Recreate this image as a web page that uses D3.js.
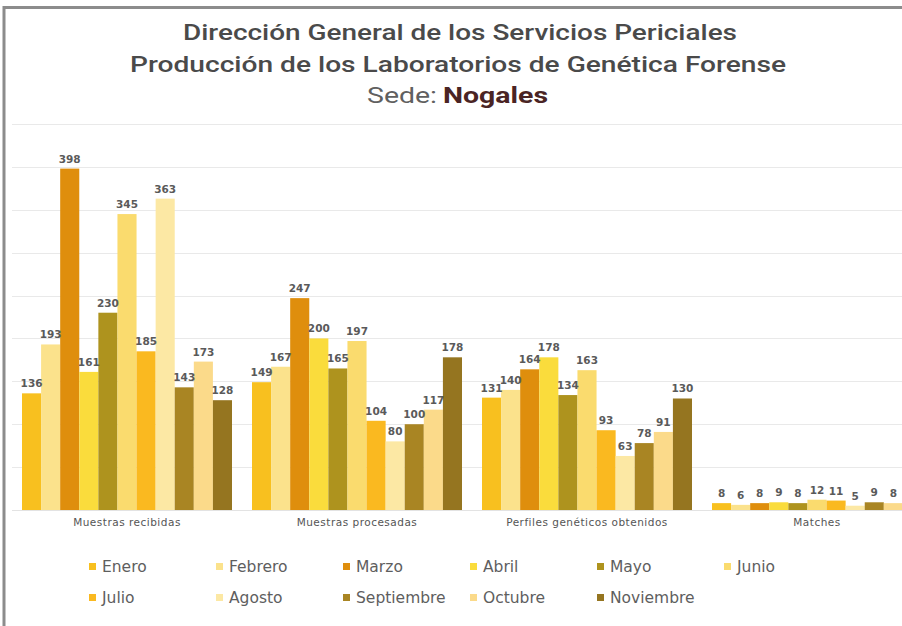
<!DOCTYPE html>
<html>
<head>
<meta charset="utf-8">
<script src="https://cdn.jsdelivr.net/npm/d3@7"></script>
<style>
  html, body { margin: 0; padding: 0; background: #ffffff; }
  svg { display: block; }
</style>
</head>
<body>
<svg id="chart" width="902" height="626"></svg>
<script>
// ---- Data ----
const categories = ["Muestras recibidas", "Muestras procesadas", "Perfiles genéticos obtenidos", "Matches"];
const months = ["Enero", "Febrero", "Marzo", "Abril", "Mayo", "Junio", "Julio", "Agosto", "Septiembre", "Octubre", "Noviembre"];
const muestrasRecibidas = [136, 193, 398, 161, 230, 345, 185, 363, 143, 173, 128];
const muestrasProcesadas = [149, 167, 247, 200, 165, 197, 104, 80, 100, 117, 178];
const perfilesObtenidos = [131, 140, 164, 178, 134, 163, 93, 63, 78, 91, 130];
const matches = [8, 6, 8, 9, 8, 12, 11, 5, 9, 8, 9];
const monthColors = ["#F8C01F", "#FBE28C", "#DF8E0D", "#FADC3C", "#AE931E", "#FADB6E",
                     "#FAB920", "#FCE8A4", "#A98523", "#FBDA8A", "#957520"];
const yTicks = [50, 100, 150, 200, 250, 300, 350, 400, 450];

const seriesByCategory = [muestrasRecibidas, muestrasProcesadas, perfilesObtenidos, matches];
const W = 902;

const svg = d3.select("#chart");

// Frame
svg.append("rect")
  .attr("x", 4).attr("y", 7.5).attr("width", 1000).attr("height", 1000)
  .attr("fill", "#ffffff").attr("stroke", "#8c8c8c").attr("stroke-width", 3);

// Title
const titleFont = "Roboto, 'Noto Sans', sans-serif";
svg.append("text").attr("x", 460).attr("y", 40).attr("text-anchor", "middle")
  .attr("font-family", titleFont).attr("font-weight", 500).attr("font-size", 22)
  .attr("fill", "#4a4a4a").attr("textLength", 554).attr("lengthAdjust", "spacingAndGlyphs")
  .text("Dirección General de los Servicios Periciales");
svg.append("text").attr("x", 458).attr("y", 72).attr("text-anchor", "middle")
  .attr("font-family", titleFont).attr("font-weight", 500).attr("font-size", 22)
  .attr("fill", "#4a4a4a").attr("textLength", 656).attr("lengthAdjust", "spacingAndGlyphs")
  .text("Producción de los Laboratorios de Genética Forense");
svg.append("text").attr("x", 367).attr("y", 103)
  .attr("font-family", titleFont).attr("font-weight", 400).attr("font-size", 22)
  .attr("fill", "#606060").attr("textLength", 70).attr("lengthAdjust", "spacingAndGlyphs")
  .text("Sede:");
svg.append("text").attr("x", 443).attr("y", 103)
  .attr("font-family", titleFont).attr("font-weight", 700).attr("font-size", 22)
  .attr("fill", "#4a2424").attr("textLength", 105).attr("lengthAdjust", "spacingAndGlyphs")
  .text("Nogales");

// Scales
const x0 = d3.scaleBand().domain(categories).range([12, 932]).paddingInner(0.087).paddingOuter(0.0435);
const x1 = d3.scaleBand().domain(months).range([0, x0.bandwidth()]).padding(0);
const y = d3.scaleLinear().domain([0, 450]).range([510, 124]);
const color = d3.scaleOrdinal().domain(months).range(monthColors);

// Gridlines
svg.append("g").selectAll("line").data(yTicks).join("line")
  .attr("x1", 12).attr("x2", 940)
  .attr("y1", d => Math.round(y(d)) + 0.5).attr("y2", d => Math.round(y(d)) + 0.5)
  .attr("stroke", "#e9e9e9").attr("stroke-width", 1);
svg.append("line").attr("x1", 12).attr("x2", 940)
  .attr("y1", y(0) + 0.5).attr("y2", y(0) + 0.5)
  .attr("stroke", "#e3e3e3");

// Bars
const groups = svg.append("g").selectAll("g").data(categories).join("g")
  .attr("transform", d => `translate(${x0(d)},0)`);

const rows = (c, i) => months.map((m, j) => ({ c, m, v: seriesByCategory[i][j] }));

groups.selectAll("rect")
  .data(rows)
  .join("rect")
  .attr("x", d => x1(d.m))
  .attr("width", x1.bandwidth())
  .attr("y", d => y(d.v))
  .attr("height", d => y(0) - y(d.v))
  .attr("fill", d => color(d.m));

// Value labels (only those whose bar centre lies inside the visible picture)
groups.selectAll("text")
  .data((c, i) => rows(c, i).filter(d => x0(d.c) + x1(d.m) + x1.bandwidth() / 2 < W - 4))
  .join("text")
  .attr("x", d => x1(d.m) + x1.bandwidth() / 2)
  .attr("y", d => y(d.v) - 6)
  .attr("text-anchor", "middle")
  .attr("font-family", "'DejaVu Sans', sans-serif")
  .attr("font-weight", 700)
  .attr("font-size", 10.5)
  .attr("fill", "#5a5a5a")
  .text(d => d.v);

// Category axis labels
const xAxis = d3.axisBottom(x0).tickSize(0).tickPadding(9);
const gx = svg.append("g").attr("transform", `translate(0,${y(0)})`).call(xAxis);
gx.select(".domain").remove();
gx.selectAll("text")
  .attr("font-family", "'DejaVu Sans', sans-serif")
  .attr("font-size", 10.5)
  .attr("letter-spacing", "0.5px")
  .attr("fill", "#555555");

// Legend
const legend = svg.append("g");
const legItems = legend.selectAll("g").data(months).join("g")
  .attr("transform", (d, i) => `translate(${89 + (i % 6) * 127},${567 + Math.floor(i / 6) * 31})`);
legItems.append("rect")
  .attr("x", 0).attr("y", -4).attr("width", 7).attr("height", 7)
  .attr("fill", d => color(d));
legItems.append("text")
  .attr("x", 13).attr("y", 0).attr("dy", "0.35em")
  .attr("font-family", "'DejaVu Sans', sans-serif")
  .attr("font-size", 15.5)
  .attr("fill", "#5e5e5e")
  .text(d => d);
</script>
</body>
</html>
